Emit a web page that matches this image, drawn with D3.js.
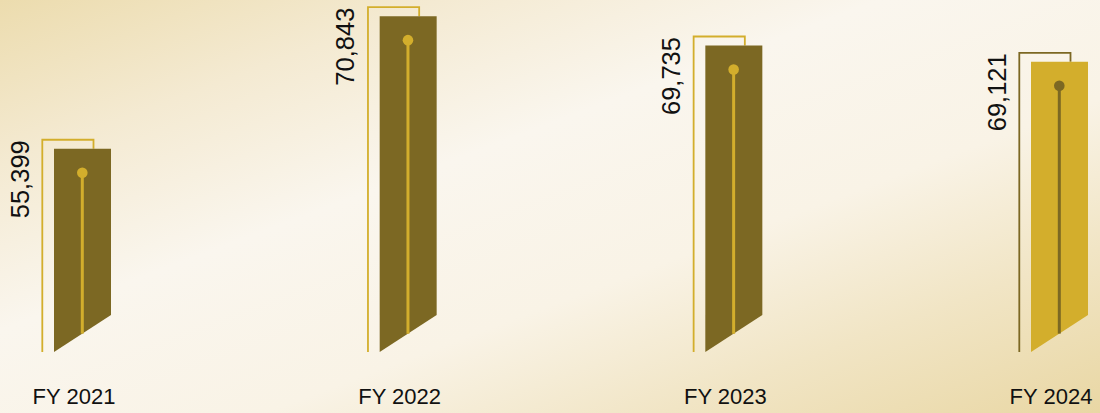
<!DOCTYPE html>
<html>
<head>
<meta charset="utf-8">
<script src="https://cdn.jsdelivr.net/npm/d3@7"></script>
<style>
  html, body { margin: 0; padding: 0; background: #faf6ee; }
  svg { display: block; }
</style>
</head>
<body>
<svg id="chart" width="1100" height="413"></svg>
<script>
// ---- data ----
const categories = ["FY 2021", "FY 2022", "FY 2023", "FY 2024"];
const values = [55399, 70843, 69735, 69121];
const valueLabels = ["55,399", "70,843", "69,735", "69,121"];
const highlight = [false, false, false, true];

// ---- style ----
const W = 1100, H = 413;
const dark = "#7c6823";
const gold = "#d3ae2c";
const barW = 57;
const baseY = 352;      // bottom-left corner of bars
const slant = 37;       // bottom edge rise across the bar

const svg = d3.select("#chart");

// background gradient
const defs = svg.append("defs");
const grad = defs.append("linearGradient")
  .attr("id", "bg").attr("x1", 0).attr("y1", 0).attr("x2", 1).attr("y2", 1);
[[0, "#ecdcae"], [0.2, "#f4ead2"], [0.4, "#faf6ee"], [0.62, "#f9f3e6"], [0.8, "#f1e5c5"], [1, "#e9d7a4"]]
  .forEach(([o, c]) => grad.append("stop").attr("offset", o).attr("stop-color", c));
svg.append("rect").attr("width", W).attr("height", H).attr("fill", "url(#bg)");

// scales
const x = d3.scalePoint().domain(categories).range([54, 1031]);
const y = d3.scaleLinear().domain([50000, 69000, 71000]).range([182, 65, 12]);

const data = categories.map((c, i) => ({ cat: c, value: values[i], label: valueLabels[i], hi: highlight[i] }));

const g = svg.append("g");

const groups = g.selectAll("g.bar").data(data).enter().append("g").attr("class", "bar");

// bracket outline
groups.append("path")
  .attr("fill", "none")
  .attr("stroke", d => d.hi ? dark : gold)
  .attr("stroke-width", 1.8)
  .attr("d", d => {
    const x0 = x(d.cat), top = y(d.value);
    const lx = x0 - 11.7, rx = x0 + 39.5, ty = top - 9;
    return `M${lx},${baseY} L${lx},${ty} L${rx},${ty} L${rx},${top}`;
  });

// bar polygon
groups.append("path")
  .attr("fill", d => d.hi ? gold : dark)
  .attr("d", d => {
    const x0 = x(d.cat), top = y(d.value);
    return `M${x0},${top} L${x0 + barW},${top} L${x0 + barW},${baseY - slant} L${x0},${baseY} Z`;
  });

// center stem
groups.append("line")
  .attr("stroke", d => d.hi ? dark : gold)
  .attr("stroke-width", 3)
  .attr("x1", d => x(d.cat) + 28.3)
  .attr("x2", d => x(d.cat) + 28.3)
  .attr("y1", d => y(d.value) + 24)
  .attr("y2", baseY - slant * 28.3 / barW);

// dot
groups.append("circle")
  .attr("fill", d => d.hi ? dark : gold)
  .attr("r", 5.3)
  .attr("cx", d => x(d.cat) + 28.3)
  .attr("cy", d => y(d.value) + 24);

// value labels (rotated)
groups.append("text")
  .attr("transform", d => `translate(${x(d.cat) - 25.5},${y(d.value) - 8.5}) rotate(-90)`)
  .attr("text-anchor", "end")
  .attr("font-family", "'Liberation Sans', Arial, sans-serif")
  .attr("font-size", 25.5)
  .attr("fill", "#111")
  .text(d => d.label);

// category labels
groups.append("text")
  .attr("x", d => x(d.cat) + 20)
  .attr("y", 404)
  .attr("text-anchor", "middle")
  .attr("font-family", "'Liberation Sans', Arial, sans-serif")
  .attr("font-size", 22)
  .attr("fill", "#111")
  .text(d => d.cat);
</script>
</body>
</html>
